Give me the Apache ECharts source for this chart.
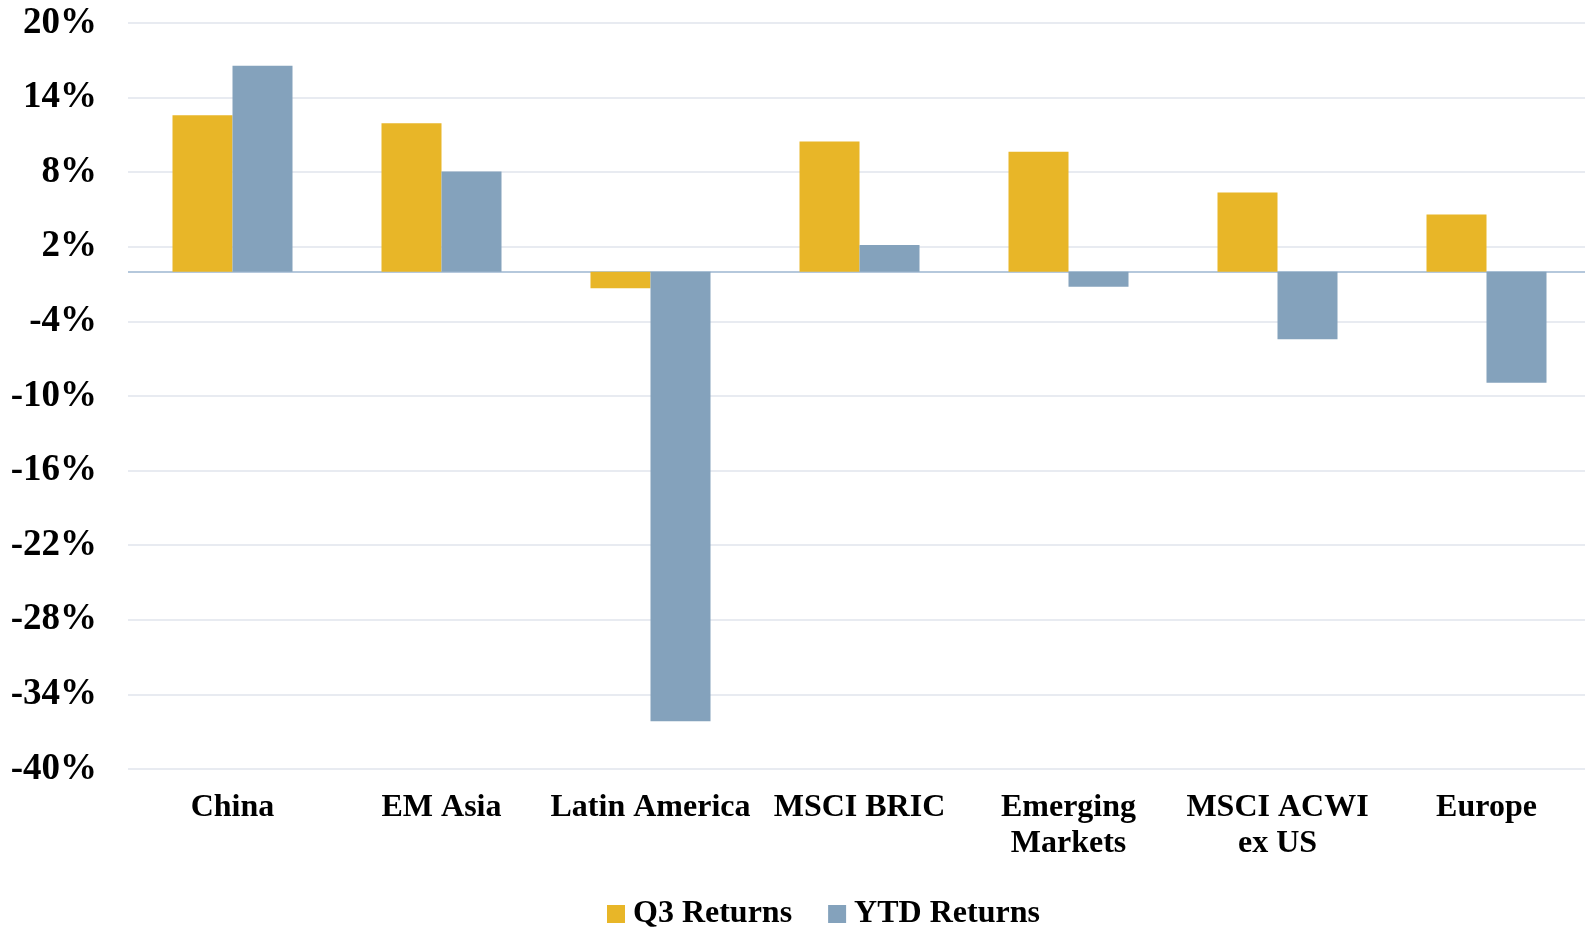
<!DOCTYPE html>
<html>
<head>
<meta charset="utf-8">
<script src="https://cdn.jsdelivr.net/npm/echarts@6/dist/echarts.min.js"></script>
<style>
  html, body { margin: 0; padding: 0; background: #ffffff; overflow: hidden; }
  #chart { width: 1585px; height: 930px; }
</style>
</head>
<body>
<div id="chart"></div>
<script>
// Regional equity returns, in percent
const categories = ['China', 'EM Asia', 'Latin America', 'MSCI BRIC', 'Emerging\nMarkets', 'MSCI ACWI\nex US', 'Europe'];
const q3Returns  = [12.58, 11.94, -1.34, 10.46, 9.65, 6.36, 4.59];
const ytdReturns = [16.57, 8.06, -36.15, 2.15, -1.21, -5.44, -8.93];
const seriesNames = ['Q3 Returns', 'YTD Returns'];

const FONT = '"Liberation Serif", "Times New Roman", serif';
const GOLD = '#E8B628';
const STEEL = '#84A2BC';

const chart = echarts.init(document.getElementById('chart'));
chart.setOption({
  backgroundColor: '#ffffff',
  animation: false,
  // plot area runs slightly past the right edge of the canvas
  grid: { left: 128, width: 1463, top: 23, height: 746, containLabel: false, outerBoundsMode: 'none' },
  legend: {
    data: seriesNames,
    left: 602,
    top: 893,
    itemWidth: 18,
    itemHeight: 18,
    itemGap: 36,
    icon: 'rect',
    textStyle: { fontFamily: FONT, fontWeight: 'bold', fontSize: 32, color: '#000', padding: [0, 0, 0, 3] }
  },
  xAxis: {
    type: 'category',
    data: categories,
    axisLine: { show: false, onZero: false },
    axisTick: { show: false },
    splitLine: { show: false },
    axisLabel: {
      interval: 0,
      margin: 21,
      fontFamily: FONT,
      fontWeight: 'bold',
      fontSize: 32,
      lineHeight: 36,
      color: '#000'
    }
  },
  yAxis: {
    type: 'value',
    min: -40,
    max: 20,
    interval: 6,
    axisLine: { show: false },
    axisTick: { show: false },
    splitLine: { lineStyle: { color: '#E0E5EC', width: 1.5 } },
    axisLabel: {
      formatter: '{value}%',
      margin: 31,
      fontFamily: FONT,
      fontWeight: 'bold',
      fontSize: 37,
      color: '#000'
    }
  },
  series: [
    {
      name: seriesNames[0],
      type: 'bar',
      data: q3Returns,
      barWidth: 60,
      barGap: '0%',
      itemStyle: { color: GOLD },
      z: 2
    },
    {
      name: seriesNames[1],
      type: 'bar',
      data: ytdReturns,
      barWidth: 60,
      barGap: '0%',
      itemStyle: { color: STEEL },
      z: 2,
      markLine: {
        silent: true,
        symbol: ['none', 'none'],
        label: { show: false },
        lineStyle: { color: '#9DB6D0', width: 1.5, type: 'solid' },
        data: [{ yAxis: 0 }],
        z: 1
      }
    }
  ]
});
</script>
</body>
</html>
